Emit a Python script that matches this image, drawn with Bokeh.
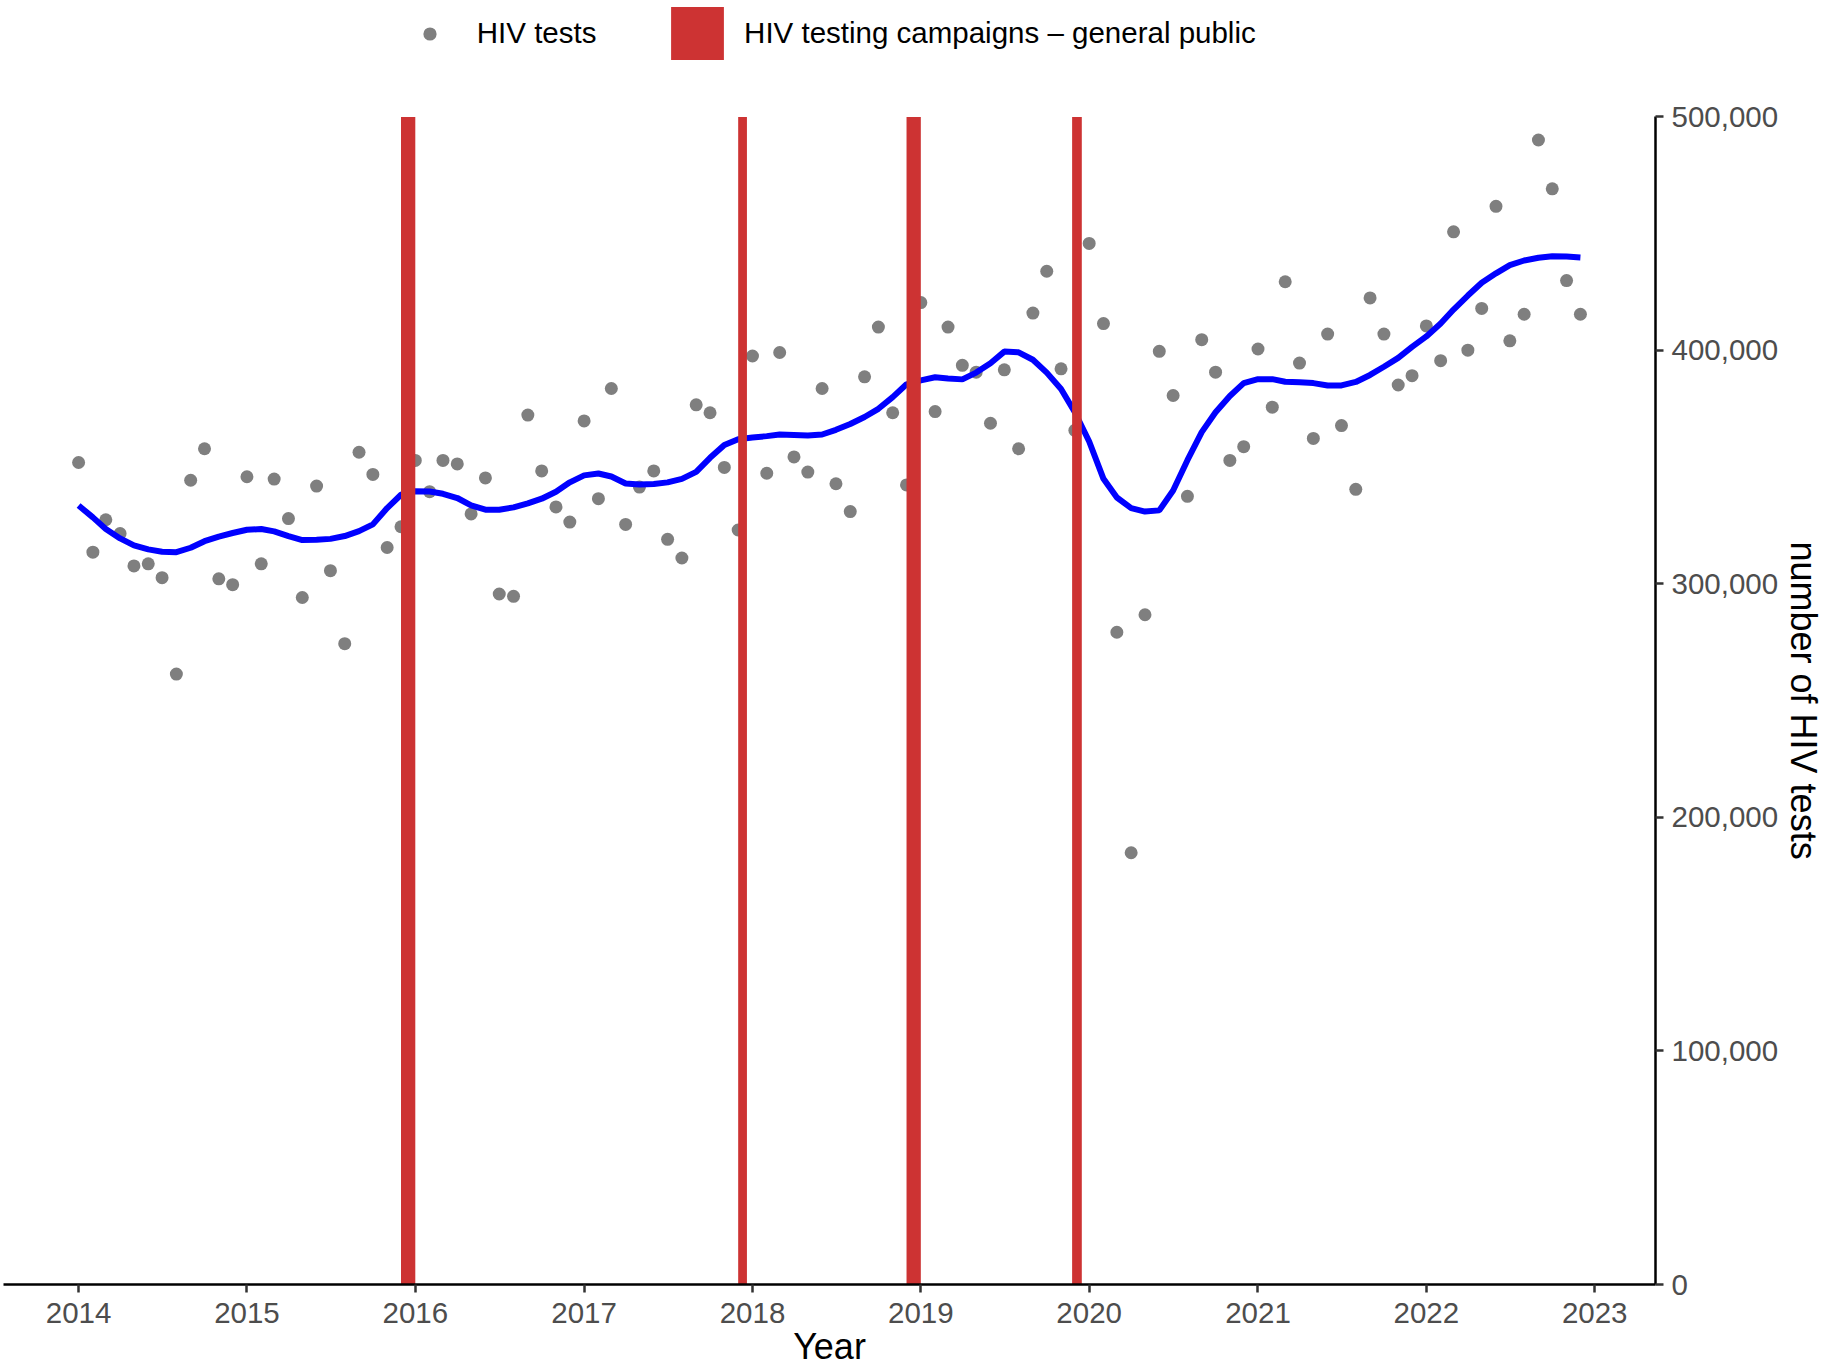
import pandas as pd
from bokeh.plotting import figure
from bokeh.models import (Range1d, FixedTicker, DatetimeTickFormatter, Title,
                          NumeralTickFormatter, Legend, LegendItem, ColumnDataSource)
from bokeh.embed import file_html
from bokeh.resources import INLINE

# ---------------- data ----------------
months = pd.date_range("2014-01-01", "2022-12-01", freq="MS")

hiv_tests = [
    # 2014
    352000, 313600, 327500, 321600, 307700, 308600, 302700, 261400, 344400, 357900, 302200, 299700,
    # 2015
    345900, 308600, 344900, 328000, 294200, 341900, 305700, 274400, 356400, 346900, 315600, 324500,
    # 2016
    352900, 339500, 352900, 351400, 330000, 345400, 295700, 294700, 372300, 348400, 333000, 326500,
    # 2017
    369800, 336500, 383700, 325500, 341500, 348400, 319100, 311100, 376700, 373300, 349900, 323100,
    # 2018
    397600, 347400, 399100, 354400, 347900, 383700, 342900, 331000, 388700, 410000, 373300, 342400,
    # 2019
    420500, 373800, 410000, 393600, 390700, 368800, 391700, 357900, 416000, 433900, 392100, 365800,
    # 2020
    445800, 411500, 279300, 184900, 286800, 399600, 380700, 337500, 404600, 390700, 352900, 358800,
    # 2021
    400600, 375700, 429400, 394600, 362300, 407000, 367800, 340500, 422500, 407000, 385200, 389200,
    # 2022
    410500, 395600, 450800, 400100, 418000, 461700, 404100, 415500, 490100, 469200, 429900, 415500,
]

smoothed_trend = [
    # 2014
    333600, 328500, 323500, 319500, 316500, 314800, 313800, 313600, 315500, 318300, 320300, 321800,
    # 2015
    323200, 323500, 322500, 320500, 318800, 318900, 319300, 320500, 322600, 325500, 332500, 338200,
    # 2016
    339700, 339600, 338600, 336800, 333600, 331800, 331800, 332800, 334500, 336500, 339500, 343500,
    # 2017
    346500, 347300, 346000, 343000, 342600, 342800, 343500, 345000, 348000, 354000, 359500, 362000,
    # 2018
    362700, 363300, 364000, 363800, 363600, 364000, 366000, 368500, 371500, 375000, 380000, 385500,
    # 2019
    387200, 388500, 388000, 387600, 390500, 394500, 399500, 399200, 396000, 390500, 383500, 373500,
    # 2020
    361000, 345000, 337000, 332500, 331000, 331500, 340000, 353000, 365000, 373500, 380500, 386000,
    # 2021
    387700, 387700, 386600, 386400, 386000, 385000, 385000, 386500, 389500, 393000, 396800, 401500,
    # 2022
    406000, 411500, 417500, 423500, 429000, 433000, 436500, 438500, 439700, 440300, 440200, 439800,
]

campaign_start = ["2015-12-01", "2017-12-01", "2018-12-01", "2019-11-25"]
campaign_end = ["2016-01-01", "2017-12-20", "2019-01-01", "2019-12-16"]

year_ticks = [2014, 2015, 2016, 2017, 2018, 2019, 2020, 2021, 2022, 2023]
y_ticks = [0, 100000, 200000, 300000, 400000, 500000]
y_max = 500000

# ---------------- layout ----------------
FONT = "Liberation Sans"
FRAME_W, FRAME_H = 1652, 1284
LEFT = 3
PANEL_TOP_PX = 116.4          # where the 500,000 line sits (px from frame top)
y_top = y_max * FRAME_H / (FRAME_H - PANEL_TOP_PX)

span = months[-1] - months[0]
x_start = months[0] - span * 0.05
x_end = months[-1] + span * 0.05

p = figure(frame_width=FRAME_W, frame_height=FRAME_H,
           x_axis_type="datetime", y_axis_location="right",
           x_range=Range1d(x_start, x_end), y_range=Range1d(0, y_top),
           output_backend="svg", toolbar_location=None,
           min_border_left=LEFT, min_border_top=0, min_border_right=0,
           min_border_bottom=0)
p.outline_line_color = None
p.background_fill_color = "white"
p.border_fill_color = "white"
p.xgrid.visible = False
p.ygrid.visible = False

pts_src = ColumnDataSource(dict(x=months, y=hiv_tests))
r_pts = p.scatter("x", "y", source=pts_src, size=13, fill_color="#7F7F7F",
                  line_color=None)

line_src = ColumnDataSource(dict(x=months, y=smoothed_trend))
p.line("x", "y", source=line_src, line_width=6, line_color="#0000FF")

bar_src = ColumnDataSource(dict(left=pd.to_datetime(campaign_start),
                                right=pd.to_datetime(campaign_end),
                                bottom=[0] * len(campaign_start),
                                top=[y_max] * len(campaign_start)))
r_bars = p.quad(left="left", right="right", bottom="bottom", top="top",
                source=bar_src, fill_color="#CD3333", line_color=None)

# ---------------- axes ----------------
tick_ms = [pd.Timestamp(f"{y}-01-01").timestamp() * 1000 for y in year_ticks]
p.xaxis.ticker = FixedTicker(ticks=tick_ms)
fmt = "%Y"
p.xaxis.formatter = DatetimeTickFormatter(
    microseconds=fmt, milliseconds=fmt, seconds=fmt, minsec=fmt, minutes=fmt,
    hourmin=fmt, hours=fmt, days=fmt, months=fmt, years=fmt)
p.yaxis.ticker = FixedTicker(ticks=y_ticks)
p.yaxis.formatter = NumeralTickFormatter(format="0,0")
p.yaxis.bounds = (0, y_max)

for ax in (p.xaxis, p.yaxis):
    ax.axis_line_color = "black"
    ax.axis_line_width = 2.5
    ax.major_tick_line_color = "#333333"
    ax.major_tick_line_width = 2.5
    ax.major_tick_out = 8
    ax.major_tick_in = 0
    ax.minor_tick_line_color = None
    ax.major_label_text_font = FONT
    ax.major_label_text_font_size = "29.5px"
    ax.major_label_text_color = "#4D4D4D"
    ax.axis_label_text_font = FONT
    ax.axis_label_text_font_size = "36px"
    ax.axis_label_text_font_style = "normal"
    ax.axis_label_text_color = "black"

p.xaxis.axis_label = "Year"
p.xaxis.major_label_standoff = 10
p.xaxis.axis_label_standoff = 0
p.yaxis.major_label_standoff = 8

# y-axis title: centred on the 0..500,000 span (not on the taller frame)
y_title = Title(text="number of HIV tests", align="left", offset=541,
                vertical_align="middle", standoff=0,
                text_font=FONT, text_font_size="36px",
                text_font_style="normal", text_color="black")
p.add_layout(y_title, "right")

# ---------------- legends (inside the frame, above the 500,000 line) ----------------
leg1 = Legend(items=[LegendItem(label="HIV tests", renderers=[r_pts])],
              location=(409.8, FRAME_H - 50.2),
              orientation="horizontal", glyph_width=33, glyph_height=33,
              label_height=34, label_standoff=31, padding=0, margin=0, spacing=0,
              border_line_color=None, background_fill_alpha=0,
              label_text_font=FONT, label_text_font_size="29.5px",
              label_text_color="black")
leg2 = Legend(items=[LegendItem(label="HIV testing campaigns \u2013 general public",
                                renderers=[r_bars])],
              location=(661.1, FRAME_H - 66),
              orientation="horizontal", glyph_width=66, glyph_height=66,
              label_height=66, label_standoff=14, padding=0, margin=0, spacing=0,
              border_line_color=None, background_fill_alpha=0,
              label_text_font=FONT, label_text_font_size="29.5px",
              label_text_color="black")
p.add_layout(leg1, "center")
p.add_layout(leg2, "center")

open("out.html", "w").write(file_html(p, INLINE))
